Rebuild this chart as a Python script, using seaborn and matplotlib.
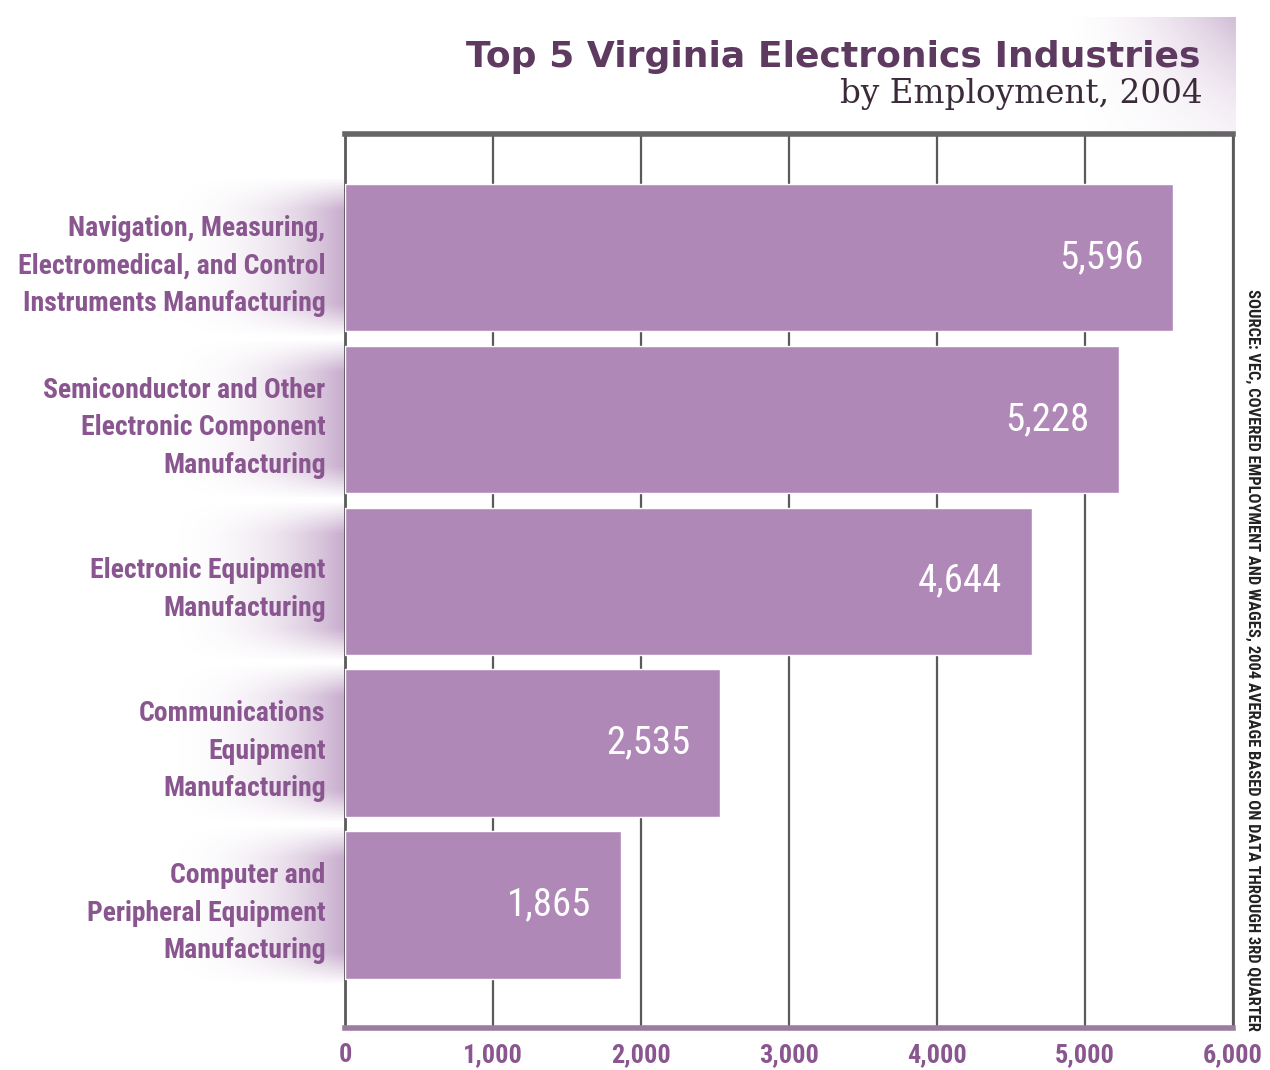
import numpy as np
import pandas as pd
import matplotlib
matplotlib.use('Agg')
import matplotlib.pyplot as plt
from matplotlib import font_manager
import seaborn as sns

# data
industries = [
    'Navigation, Measuring,\nElectromedical, and Control\nInstruments Manufacturing',
    'Semiconductor and Other\nElectronic Component\nManufacturing',
    'Electronic Equipment\nManufacturing',
    'Communications\nEquipment\nManufacturing',
    'Computer and\nPeripheral Equipment\nManufacturing',
]
employment = [5596, 5228, 4644, 2535, 1865]
x_ticks = [0, 1000, 2000, 3000, 4000, 5000, 6000]

df = pd.DataFrame({'industry': industries, 'employment': employment})

sns.set_style('white')

# pick a narrow face if one is installed
names = {f.name for f in font_manager.fontManager.ttflist}
narrow = None
for cand in ['Liberation Sans Narrow', 'DejaVu Sans Condensed', 'Roboto Condensed',
             'Open Sans Condensed', 'Noto Sans Condensed']:
    if cand in names:
        narrow = cand
        break
fam = [narrow, 'DejaVu Sans'] if narrow else ['DejaVu Sans']
plt.rcParams['font.family'] = fam
scale = 1.0 if narrow else 0.8

bar_col = '#B088B8'
lab_col = '#8A5690'
title_col = '#5E3A60'

fig = plt.figure(figsize=(12.7, 10.7), dpi=100)

# soft purple glow behind title, right side
bg = fig.add_axes([0.0, 0.874, 0.973, 0.11], zorder=0)
gx = np.linspace(0, 1, 300)
gy = np.linspace(0, 1, 60)
GX, GY = np.meshgrid(gx, gy)
a = np.clip((GX - 0.86) / 0.14, 0, 1) ** 1.8 * (0.2 + 0.8 * (1 - GY) ** 1.5)
img = np.zeros((60, 300, 4))
img[..., 0] = 0.69
img[..., 1] = 0.53
img[..., 2] = 0.72
img[..., 3] = a * 0.55
bg.imshow(img, aspect='auto', extent=[0, 1, 0, 1])
bg.axis('off')

ax = fig.add_axes([0.2717, 0.0393, 0.699, 0.835], zorder=2)
ax.patch.set_alpha(0)

sns.barplot(data=df, x='employment', y='industry', color=bar_col,
            width=0.91, saturation=1, ax=ax, zorder=3)

ax.set_xlim(0, 6000)
ax.set_ylim(4.76, -0.76)
ax.set_xticks(x_ticks)
ax.set_xticklabels([f'{v:,}' for v in x_ticks])
ax.set_xlabel('')
ax.set_ylabel('')
ax.grid(axis='x', color='#5a5a5a', linewidth=1.6, zorder=1)
ax.set_axisbelow(True)

for s in ['left', 'right']:
    ax.spines[s].set_color('#5a5a5a')
    ax.spines[s].set_linewidth(2)
ax.spines['top'].set_color('#666666')
ax.spines['top'].set_linewidth(4)
ax.spines['bottom'].set_color('#9C7CA0')
ax.spines['bottom'].set_linewidth(4)

ax.tick_params(axis='x', length=0, pad=11, labelsize=19 * scale, labelcolor=lab_col)
ax.tick_params(axis='y', length=0, pad=14, labelsize=20 * scale, labelcolor=lab_col)
for t in ax.get_xticklabels() + ax.get_yticklabels():
    t.set_fontweight('bold')
for t in ax.get_yticklabels():
    t.set_linespacing(1.55 if not narrow else 1.5)

# purple fade behind category labels
gw = np.linspace(0, 1, 200)
gh = np.linspace(0, 1, 50)
W, H = np.meshgrid(gw, gh)
edge = np.clip(np.minimum(H, 1 - H) / 0.2, 0, 1)
fade = np.zeros((50, 200, 4))
fade[..., 0] = 0.69
fade[..., 1] = 0.53
fade[..., 2] = 0.72
fade[..., 3] = (W ** 2.5) * 0.7 * edge
for i in range(len(industries)):
    ax.imshow(fade, extent=[-1300, 0, i + 0.5, i - 0.5], aspect='auto',
              clip_on=False, zorder=0)
ax.set_xlim(0, 6000)
ax.set_ylim(4.76, -0.76)

for i, v in enumerate(employment):
    ax.text(v - 200, i, f'{v:,}', ha='right', va='center', color='white',
            fontsize=28 * (1.0 if narrow else 0.95), zorder=5)

fig.text(0.945, 0.947, 'Top 5 Virginia Electronics Industries', ha='right',
         va='center', fontsize=26, fontweight='bold', color=title_col,
         family=['DejaVu Sans'])
fig.text(0.947, 0.912, 'by Employment, 2004', ha='right', va='center',
         fontsize=23.5, color='#3a2a3a', family=['DejaVu Serif'])

fig.text(0.986, 0.383,
         'SOURCE: VEC, COVERED EMPLOYMENT AND WAGES, 2004 AVERAGE BASED ON DATA THROUGH 3RD QUARTER',
         rotation=-90, ha='center', va='center', fontsize=11.9 * (1.0 if narrow else 0.95),
         fontweight='bold', color='#222222')

fig.savefig('out.png', dpi=100, facecolor='white')
